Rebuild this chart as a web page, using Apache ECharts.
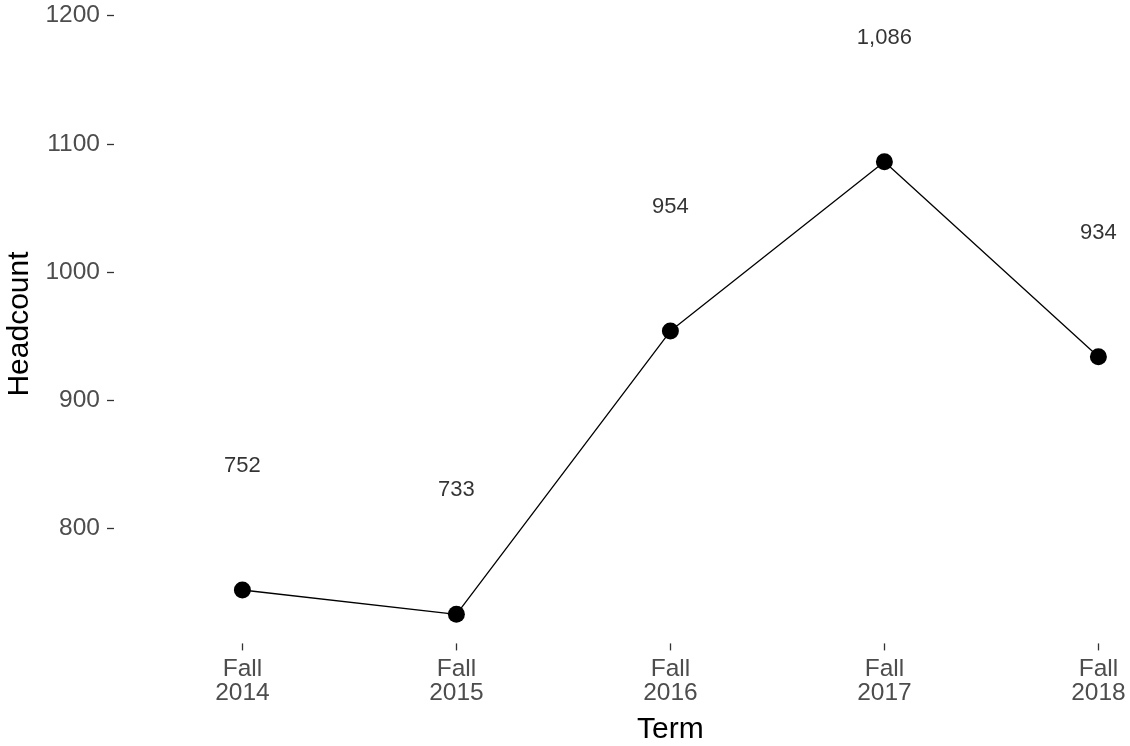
<!DOCTYPE html>
<html>
<head>
<meta charset="utf-8">
<script src="https://cdn.jsdelivr.net/npm/echarts@6/dist/echarts.min.js"></script>
<style>html,body{margin:0;padding:0;background:#fff}#c{width:1130px;height:746px}</style>
</head>
<body>
<div id="c"></div>
<script>
const categories = ["Fall\n2014", "Fall\n2015", "Fall\n2016", "Fall\n2017", "Fall\n2018"];
const headcount = [752, 733, 954, 1086, 934];
const labelOffset = 100;
const yTicks = [800, 900, 1000, 1100, 1200];

const lineData = headcount.map((v, i) => [i, v]);
const labelData = headcount.map((v, i) => [i, v + labelOffset, v]);
const allY = headcount.concat(headcount.map(v => v + labelOffset));
const yMinD = Math.min(...allY), yMaxD = Math.max(...allY);
const yPad = (yMaxD - yMinD) * 0.05;

const chart = echarts.init(document.getElementById('c'));
const font = 'Liberation Sans, Arial, sans-serif';
chart.setOption({
  animation: false,
  grid: { left: 114, top: 4.6, bottom: 102.6, right: -96.8, containLabel: false, outerBoundsMode: 'none' },
  xAxis: {
    type: 'value', min: -0.6, max: categories.length - 1 + 0.6,
    name: 'Term', nameLocation: 'middle', nameGap: 71,
    nameTextStyle: { color: '#000', fontSize: 30, fontFamily: font },
    axisLine: { show: false, onZero: false },
    splitLine: { show: false },
    axisTick: { show: true, length: 7, lineStyle: { color: '#333', width: 1.3 }, customValues: categories.map((c, i) => i) },
    axisLabel: { color: '#4d4d4d', fontSize: 24.5, fontFamily: font, lineHeight: 24, margin: 14,
      customValues: categories.map((c, i) => i), formatter: v => categories[Math.round(v)] }
  },
  yAxis: {
    type: 'value', min: yMinD - yPad, max: yMaxD + yPad,
    name: 'Headcount', nameLocation: 'middle', nameGap: 77,
    nameTextStyle: { color: '#000', fontSize: 30, fontFamily: font },
    axisLine: { show: false, onZero: false },
    splitLine: { show: false },
    axisTick: { show: true, length: 7, lineStyle: { color: '#333', width: 1.3 }, customValues: yTicks },
    axisLabel: { color: '#4d4d4d', fontSize: 24.5, fontFamily: font, margin: 14, customValues: yTicks,
      formatter: v => String(Math.round(v)) }
  },
  series: [
    {
      type: 'line', data: lineData, symbol: 'circle', symbolSize: 17,
      lineStyle: { color: '#000', width: 1.3 }, itemStyle: { color: '#000' }, silent: true
    },
    {
      type: 'scatter', data: labelData, symbolSize: 0, silent: true,
      label: { show: true, position: 'inside', offset: [0, 4], color: '#000', fontSize: 22, fontFamily: font,
        formatter: p => p.data[2].toLocaleString('en-US') }
    }
  ]
});
</script>
</body>
</html>
